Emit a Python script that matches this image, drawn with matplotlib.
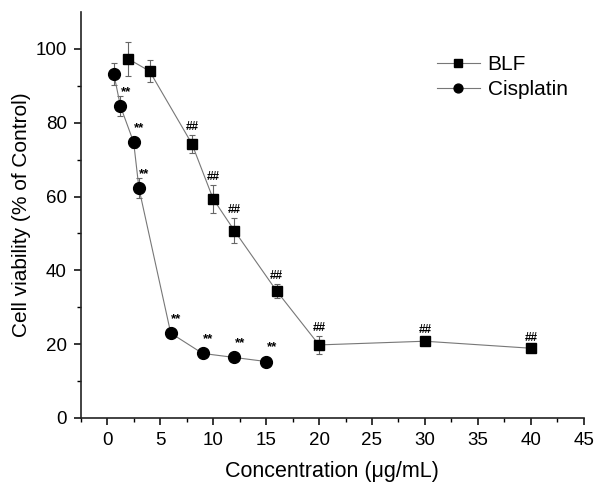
import matplotlib.pyplot as plt
import numpy as np

plt.rcParams['font.family'] = ['Liberation Sans', 'DejaVu Sans']

blf_x = [2, 4, 8, 10, 12, 16, 20, 30, 40]
blf_y = [97.3, 94.0, 74.3, 59.4, 50.8, 34.4, 19.8, 20.8, 18.9]
blf_err = [4.7, 3.0, 2.5, 3.8, 3.3, 1.8, 2.4, 0.8, 0.5]
blf_marks = ["", "", "##", "##", "##", "##", "##", "##", "##"]

cis_x = [0.625, 1.25, 2.5, 3, 6, 9, 12, 15]
cis_y = [93.3, 84.5, 74.7, 62.2, 23.0, 17.5, 16.4, 15.3]
cis_err = [3.0, 2.7, 1.5, 2.7, 0.5, 0.4, 0.4, 0.3]
cis_marks = ["", "**", "**", "**", "**", "**", "**", "**"]

fig = plt.figure(figsize=(6.05, 4.95), dpi=100)
ax = fig.add_axes([0.1334, 0.1556, 0.8316, 0.82])

err_kw = dict(fmt="none", ecolor="#666666", elinewidth=0.8, capsize=2.5,
              capthick=0.8)
ax.errorbar(blf_x, blf_y, yerr=blf_err, **err_kw)
ax.errorbar(cis_x, cis_y, yerr=cis_err, **err_kw)
ax.plot(blf_x, blf_y, color="#777777", linewidth=0.8, marker="s",
        markersize=7.5, markerfacecolor="black", markeredgecolor="black",
        label="BLF")
ax.plot(cis_x, cis_y, color="#777777", linewidth=0.8, marker="o",
        markersize=8.5, markerfacecolor="black", markeredgecolor="black",
        label="Cisplatin")

for x, y, e, m in zip(blf_x, blf_y, blf_err, blf_marks):
    if m:
        ax.annotate(m, (x, y + e), xytext=(0, 1.5), textcoords="offset points",
                    ha="center", va="bottom", fontsize=8.5, fontweight="bold")
for x, y, e, m in zip(cis_x, cis_y, cis_err, cis_marks):
    if m:
        ax.annotate(m, (x, y), xytext=(4, 6), textcoords="offset points",
                    ha="center", va="bottom", fontsize=9.5, fontweight="bold")

ax.set_xlim(-2.5, 45)
ax.set_ylim(0, 110)
ax.set_xticks(np.arange(0, 46, 5))
ax.set_xticks(np.arange(-2.5, 46, 2.5), minor=True)
ax.set_yticks(np.arange(0, 101, 20))
ax.set_yticks(np.arange(0, 110, 10), minor=True)
ax.spines["top"].set_visible(False)
ax.spines["right"].set_visible(False)
for s in ("left", "bottom"):
    ax.spines[s].set_linewidth(1.2)
    ax.spines[s].set_color("#222222")
ax.tick_params(which="major", direction="out", length=5, width=1.1,
               labelsize=13.5, pad=5)
ax.tick_params(which="minor", direction="out", length=3, width=1.0)

ax.set_xlabel("Concentration (\u03bcg/mL)", fontsize=15.5, labelpad=9)
ax.set_ylabel("Cell viability (% of Control)", fontsize=15, labelpad=3)

ax.legend(loc="upper left", bbox_to_anchor=(0.67, 0.94), frameon=False,
          fontsize=15, handlelength=2.1, labelspacing=0.3,
          handletextpad=0.35, markerscale=0.75)

fig.savefig("out.png", dpi=100)
